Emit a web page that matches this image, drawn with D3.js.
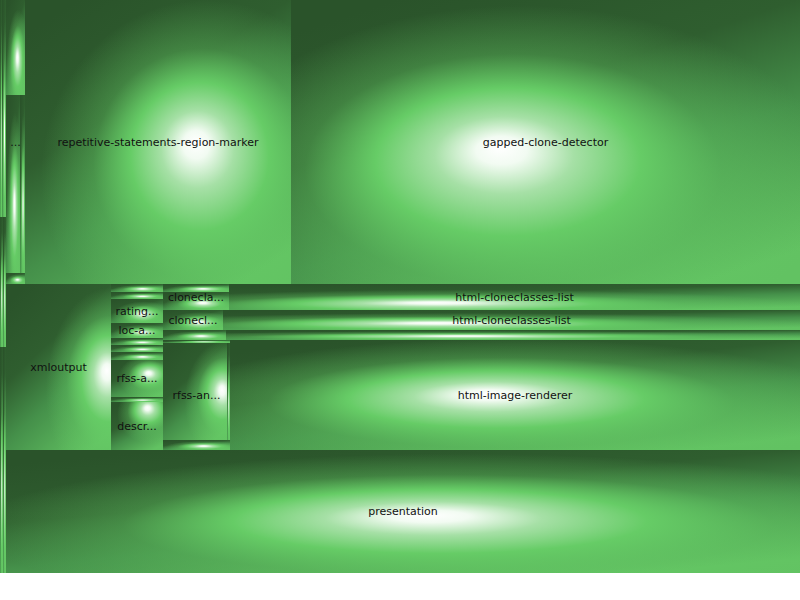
<!DOCTYPE html>
<html>
<head>
<meta charset="utf-8">
<script src="https://cdn.jsdelivr.net/npm/d3@7"></script>
<style>
  body { margin: 0; background: #fff; }
  svg { display: block; }
  text { font-family: "DejaVu Sans", sans-serif; font-size: 11px; fill: #111; }
</style>
</head>
<body>
<div id="chart"></div>
<script>
const width = 800;
const height = 573;

// block tree: id, parent, shown label, own value (leaves only)
const ids = ["root", "L", "L1", "L1a", "L1b", "L2", "L2a", "L2b", "L3", "L3a", "L3b",
  "M", "T", "D", "D1", "D2", "D2a", "D2b", "D3", "R", "G",
  "Mid", "X", "C1", "c1r1", "c1r2", "c1r3", "c1r4", "c1r5", "c1r6", "c1r7", "c1r8", "c1r9", "c1r10",
  "C2", "A", "A1", "A1a", "A1b", "A2", "B", "B1", "B2", "Cr", "Cr1", "Cr2",
  "Dr", "Dr1", "r1", "r2", "r2a", "r2b", "r3", "Dr2", "P"];
const parents = ["", "root", "L", "L1", "L1", "L", "L2", "L2", "L", "L3", "L3",
  "root", "M", "T", "D", "D", "D2", "D2", "D", "T", "T",
  "M", "Mid", "Mid", "C1", "C1", "C1", "C1", "C1", "C1", "C1", "C1", "C1", "C1",
  "Mid", "C2", "A", "A1", "A1", "A", "C2", "B", "B", "C2", "Cr", "Cr",
  "C2", "Dr", "Dr1", "Dr1", "r2", "r2", "Dr1", "Dr", "M"];
const labels = ["", "", "", "", "", "", "", "", "", "", "",
  "", "", "...", "", "", "", "", "", "repetitive-statements-region-marker", "gapped-clone-detector",
  "", "xmloutput", "", "", "", "rating...", "loc-a...", "", "", "", "rfss-a...", "", "descr...",
  "", "", "clonecla...", "", "", "html-cloneclasses-list", "", "clonecl...", "html-cloneclasses-list", "", "", "",
  "", "rfss-an...", "", "", "", "", "", "html-image-renderer", "presentation"];
const values = [0, 0, 0, 434, 868, 0, 390, 390, 0, 678, 678,
  0, 0, 0, 1805, 0, 2492, 890, 209, 75544, 144556,
  0, 17430, 0, 416, 364, 1248, 780, 364, 364, 416, 1924, 260, 2496,
  0, 0, 0, 528, 1188, 14846, 0, 1200, 11540, 0, 630, 5740,
  0, 0, 201, 0, 6208, 291, 670, 62700, 97662];

// highlight position inside each cushion (style only)
const glow = {
  G: [0.41, 0.52], R: [0.64, 0.5], P: [0.53, 0.53], X: [0.96, 0.52],
  Dr2: [0.45, 0.49], A2: [0.36, 0.72], B2: [0.37, 0.65], Cr2: [0.41, 0.6],
  r2a: [0.92, 0.48], c1r8: [0.72, 0.35], c1r10: [0.7, 0.12]
};
const shadeStops = [[0, "#2a532a"], [0.35, "#2f5e2f"], [0.62, "#45904a"], [1, "#62c262"]];
const glowStops = [
  [0, "#ffffff", 1], [0.08, "#f2fbf2", 1], [0.22, "#a6e0a6", 1], [0.42, "#66cc66", 1],
  [0.66, "#66cc66", 0.35], [1, "#66cc66", 0]
];

const table = ids.map((id, i) => ({ id: id, parent: parents[i], label: labels[i], value: values[i] }));

const root = d3.stratify()
  .id(d => d.id)
  .parentId(d => d.parent || null)(table)
  .sum(d => d.value);

d3.treemap()
  .tile(d3.treemapSliceDice)
  .size([width, height])(root);

const svg = d3.select("#chart")
  .append("svg")
  .attr("width", 800)
  .attr("height", 600);

const defs = svg.append("defs");
const leaves = root.leaves();

const shade = defs.append("linearGradient")
  .attr("id", "shade")
  .attr("x1", 0.2).attr("y1", 0)
  .attr("x2", 0.8).attr("y2", 1);
shadeStops.forEach(s => shade.append("stop").attr("offset", s[0]).attr("stop-color", s[1]));

leaves.forEach(d => {
  const f = glow[d.id] || [0.6, 0.6];
  const g = defs.append("radialGradient")
    .attr("id", "g-" + d.id)
    .attr("fx", f[0]).attr("fy", f[1])
    .attr("cx", f[0] + 0.04).attr("cy", f[1] + 0.12)
    .attr("r", 0.62);
  glowStops.forEach(s => g.append("stop")
    .attr("offset", s[0])
    .attr("stop-color", s[1])
    .attr("stop-opacity", s[2]));
});

const cell = svg.append("g")
  .selectAll("g")
  .data(leaves)
  .join("g")
  .attr("transform", d => `translate(${d.x0},${d.y0})`);

cell.append("rect")
  .attr("width", d => d.x1 - d.x0)
  .attr("height", d => d.y1 - d.y0)
  .attr("fill", "url(#shade)");

cell.append("rect")
  .attr("width", d => d.x1 - d.x0)
  .attr("height", d => d.y1 - d.y0)
  .attr("fill", d => `url(#g-${d.id})`);

svg.append("g")
  .selectAll("text")
  .data(root.descendants().filter(d => d.data.label))
  .join("text")
  .attr("x", d => (d.x0 + d.x1) / 2)
  .attr("y", d => (d.y0 + d.y1) / 2)
  .attr("text-anchor", "middle")
  .attr("dominant-baseline", "central")
  .text(d => d.data.label);
</script>
</body>
</html>
